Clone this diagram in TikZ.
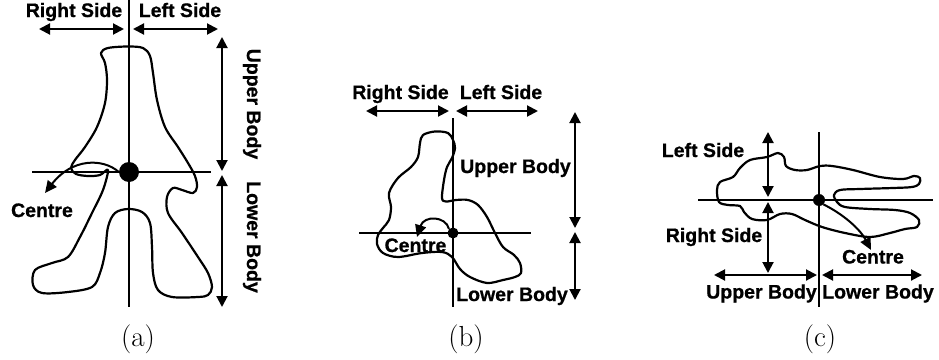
\documentclass[tikz,border=0pt]{standalone}
\usepackage{fontspec}
\usetikzlibrary{arrows.meta}
\newfontfamily\lab{Liberation Sans}[FakeBold=0.8]
\tikzset{
  ax/.style={line width=2.1pt},
  body/.style={line width=2.2pt, line join=round},
  dbl/.style={line width=2pt, {Triangle[length=11pt,width=11pt]}-{Triangle[length=11pt,width=11pt]}},
  ptr/.style={line width=2pt, -{Triangle[length=12pt,width=11pt]}},
  dot/.style={circle, fill=black, inner sep=0pt},
  lbl/.style={font=\lab\bfseries\fontsize{19.5}{22}\selectfont, inner sep=0pt, anchor=base},
  subcap/.style={font=\fontsize{29}{32}\selectfont, inner sep=0pt, anchor=base}
}
\begin{document}
\begin{tikzpicture}[x=1pt,y=-1pt]
\useasboundingbox (0,0) rectangle (939,359);

% ---------- (a) standing posture ----------
\draw[ax] (129,0) -- (129,307);
\draw[ax] (32,172) -- (211,172);
\draw[body] plot[smooth cycle, tension=0.55] coordinates {
  (101,53) (108,48) (128,46.5) (143,48) (150,56) (153,73) (157,100) (165,127)
  (178,147) (188,163) (195,176) (197,187) (193,193) (182,190) (173,188)
  (167,197) (168,213) (182,233) (198,257) (208,273) (212,287) (208,295)
  (198,297) (172,297) (158,290) (153,273) (152,247) (150,223) (142,212)
  (128,209) (115,213) (108,227) (105,253) (100,273) (92,287) (68,292)
  (42,293) (33,285) (35,270) (52,263) (68,257) (80,237) (92,213) (103,190)
  (108,170) (100,175) (88,176) (76,174) (71,168) (75,160) (85,147) (97,127)
  (105,103) (107,80) (105,63)};
\node[dot, minimum size=20pt] (da) at (129,172) {};
\coordinate (aCtip) at (45,193);
\draw[ptr] (da.west) .. controls (103,158) and (72,158) .. (aCtip);
\node[lbl] (aRS) at (74,17) {Right Side};
\node[lbl] (aLS) at (180,17) {Left Side};
\node[lbl] (aCe) at (42,217) {Centre};
\node[lbl, rotate=-90] (aUB) at (247,104) {Upper Body};
\node[lbl, rotate=-90] (aLB) at (247,237) {Lower Body};
\coordinate (a1) at (39,29);  \coordinate (a2) at (124,29);
\coordinate (a3) at (133,29); \coordinate (a4) at (218,29);
\coordinate (a5) at (222,37); \coordinate (a6) at (222,171);
\coordinate (a7) at (222,175); \coordinate (a8) at (222,307);
\draw[dbl] (a1) -- (a2);
\draw[dbl] (a3) -- (a4);
\draw[dbl] (a5) -- (a6);
\draw[dbl] (a7) -- (a8);
\node[subcap] (capa) at (138,346) {(a)};

% ---------- (b) sitting posture ----------
\draw[ax] (453,118) -- (453,307);
\draw[ax] (359,233) -- (531,233);
\draw[body] plot[smooth cycle, tension=0.55] coordinates {
  (420,143) (423,135) (435,131.5) (448,133) (453,140) (455,148) (452,158)
  (447,167) (444,180) (442,198) (446,201.5) (456,200) (468,200) (478,205)
  (487,217) (495,233) (503,247) (514,255) (520,263) (521,273) (515,277)
  (503,280) (487,283) (470,277) (460,269) (452,257) (442,252) (422,253)
  (398,257) (383,253) (377,244) (378,235) (383,228) (389,220) (391,207)
  (389,193) (398,178) (411,167) (418,157)};
\node[dot, minimum size=11pt] (db) at (453,233) {};
\coordinate (bCtip) at (417,237);
\draw[ptr] (db.north west) .. controls (446,216) and (424,215) .. (bCtip);
\node[lbl] (bRS) at (400.5,99) {Right Side};
\node[lbl] (bLS) at (501,99) {Left Side};
\node[lbl] (bUB) at (515.5,173) {Upper Body};
\node[lbl] (bLB) at (512,301) {Lower Body};
\node[lbl] (bCe) at (415.5,252) {Centre};
\coordinate (b1) at (366,111); \coordinate (b2) at (449,111);
\coordinate (b3) at (456,111); \coordinate (b4) at (538,111);
\coordinate (b5) at (575,112); \coordinate (b6) at (575,228);
\coordinate (b7) at (575,232); \coordinate (b8) at (575,300);
\draw[dbl] (b1) -- (b2);
\draw[dbl] (b3) -- (b4);
\draw[dbl] (b5) -- (b6);
\draw[dbl] (b7) -- (b8);
\node[subcap] (capb) at (466,346) {(b)};

% ---------- (c) lying posture ----------
\draw[ax] (819,132) -- (819,307);
\draw[ax] (698,200) -- (933,200);
\draw[body] plot[smooth cycle, tension=0.55] coordinates {
  (717,190) (720,182) (733,177) (740,168) (750,160) (767,157) (778,153)
  (784,157) (786,166) (795,170) (807,170) (820,166) (832,166) (853,170)
  (880,177) (903,179) (914,176) (920,178) (919,184) (912,187) (893,188)
  (860,189) (840,190) (834,195) (837,202) (845,207) (870,209) (895,210)
  (910,213) (919,220) (917,227) (905,229) (890,233) (870,237) (845,233)
  (822,227) (805,220) (792,214) (780,214) (767,220) (752,219) (744,212)
  (740,206) (728,205) (719,202)};
\node[dot, minimum size=12pt] (dc) at (819,200) {};
\coordinate (cCtip) at (871,250);
\draw[ptr] (dc.south east) .. controls (843,214) and (860,229) .. (cCtip);
\node[lbl] (cLS) at (703,157) {Left Side};
\node[lbl] (cRS) at (714,242) {Right Side};
\node[lbl] (cCe) at (873,263.5) {Centre};
\node[lbl] (cUB) at (761.5,298.5) {Upper Body};
\node[lbl] (cLB) at (878,298.5) {Lower Body};
\coordinate (c1) at (768,132); \coordinate (c2) at (768,197);
\coordinate (c3) at (768,202); \coordinate (c4) at (768,273);
\coordinate (c5) at (714,275); \coordinate (c6) at (817,275);
\coordinate (c7) at (822,275); \coordinate (c8) at (922,275);
\draw[dbl] (c1) -- (c2);
\draw[dbl] (c3) -- (c4);
\draw[dbl] (c5) -- (c6);
\draw[dbl] (c7) -- (c8);
\node[subcap] (capc) at (820,346) {(c)};
\end{tikzpicture}
\end{document}
